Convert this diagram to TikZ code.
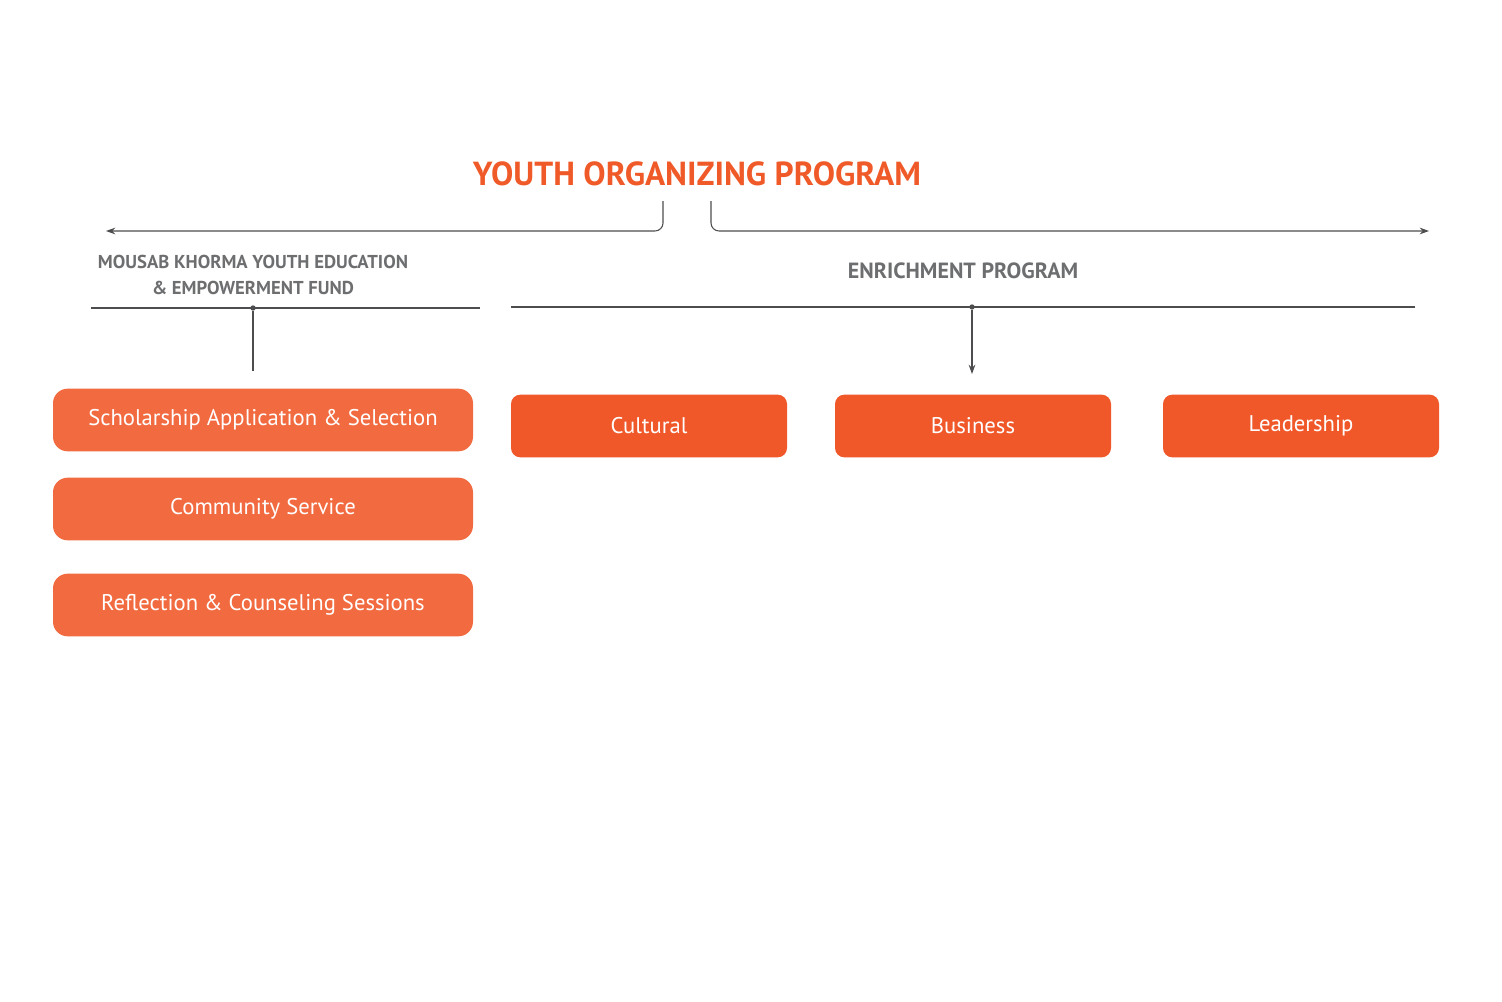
\documentclass[tikz,border=0pt]{standalone}
\usepackage{fontspec}
\setmainfont{PT Sans}
\usetikzlibrary{arrows.meta}
\definecolor{orA}{HTML}{F26A3F}
\definecolor{orB}{HTML}{F0582A}
\definecolor{ttl}{HTML}{EF5A28}
\definecolor{gr}{HTML}{6D6E70}
\definecolor{ln}{HTML}{4D4D4F}
\tikzset{
 lbox/.style={fill=orA,rounded corners=11pt,minimum width=315pt,minimum height=47pt,text=white,font=\fontsize{17}{20}\selectfont,inner sep=0pt},
 rbox/.style={fill=orB,rounded corners=7pt,minimum width=207pt,minimum height=47pt,text=white,font=\fontsize{17}{20}\selectfont,inner sep=0pt},
 lab/.style={text=gr,font=\bfseries\fontsize{14}{19}\selectfont,align=center},
 con/.style={draw=ln,line width=0.8pt},
 arr/.style={con,-{Stealth[length=7pt,width=5pt]}},
 dotc/.style={circle,fill=ln,inner sep=0pt,minimum size=4pt}
}
\begin{document}
\begin{tikzpicture}[x=0.75pt,y=-0.75pt]
\useasboundingbox (0,0) rectangle (1502,1002);
\node[text=ttl,font=\bfseries\fontsize{25}{30}\selectfont] (title) at (697,174) {YOUTH ORGANIZING PROGRAM};
\coordinate (tl) at (663,201); \coordinate (tr) at (711,201);
\coordinate (al) at (106,231); \coordinate (ar) at (1429,231);
\draw[arr,rounded corners=6pt] (tl) |- (al);
\draw[arr,rounded corners=6pt] (tr) |- (ar);
\node[lab] (fund) at (253,275) {MOUSAB KHORMA YOUTH EDUCATION\\\& EMPOWERMENT FUND};
\node[lab,font=\bfseries\fontsize{16.5}{20}\selectfont] (enr) at (963,271) {ENRICHMENT PROGRAM};
\coordinate (l1) at (91,308); \coordinate (l2) at (480,308);
\coordinate (r1) at (511,307); \coordinate (r2) at (1415,307);
\draw[con] (l1) -- (l2); \draw[con] (r1) -- (r2);
\node[dotc] (dl) at (253,308) {}; \node[dotc] (dr) at (972,307) {};
\coordinate (el) at (253,371); \coordinate (er) at (972,374);
\draw[con] (dl) -- (el);
\draw[arr] (dr) -- (er);
\node[lbox] (s1) at (263,420) {Scholarship Application \& Selection};
\node[lbox] (s2) at (263,509) {Community Service};
\node[lbox] (s3) at (263,605) {Reflection \& Counseling Sessions};
\node[rbox] (c1) at (649,426) {Cultural};
\node[rbox] (c2) at (973,426) {Business};
\node[rbox] (c3) at (1301,426) {Leadership};
\end{tikzpicture}
\end{document}
